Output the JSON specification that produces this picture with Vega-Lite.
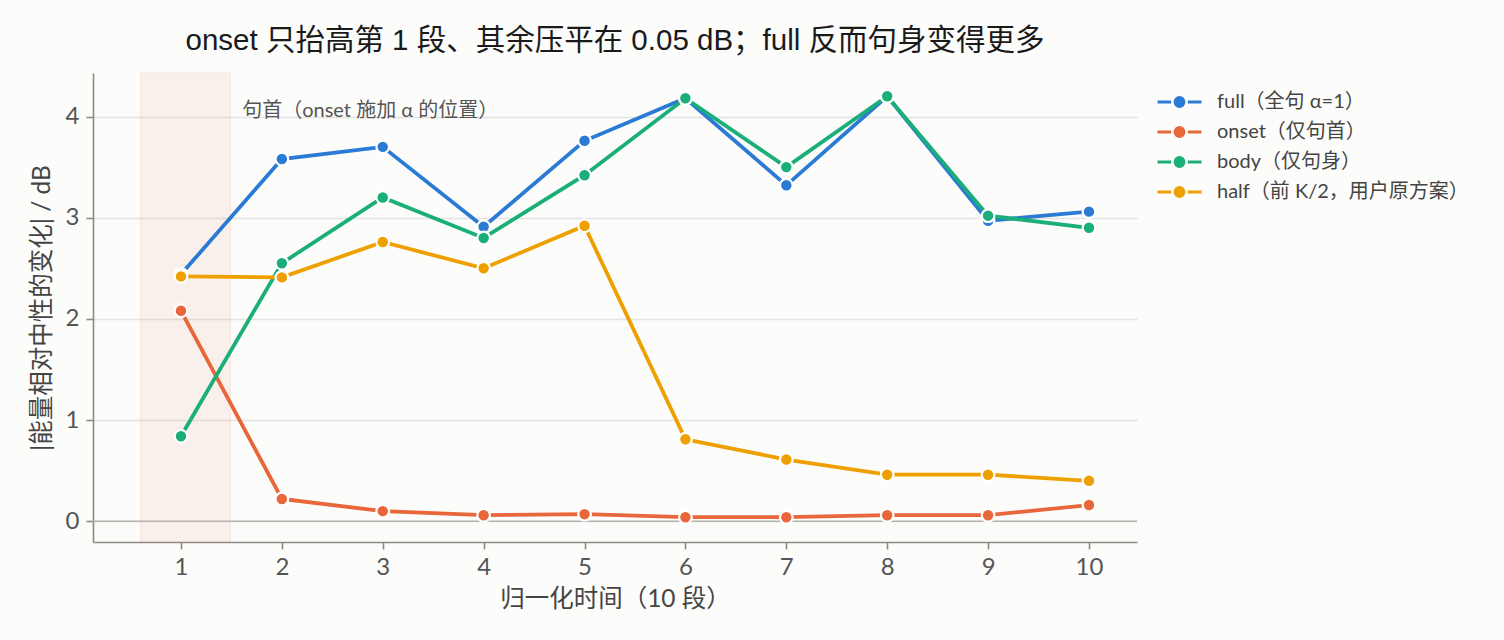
{
  "$schema": "https://vega.github.io/schema/vega-lite/v6.json",
  "width": 1044,
  "height": 469,
  "autosize": {"type": "none"},
  "padding": {"left": 93, "top": 73, "right": 367, "bottom": 98},
  "background": "#fcfcfa",
  "title": {
    "text": "onset 只抬高第 1 段、其余压平在 0.05 dB；full 反而句身变得更多",
    "font": "Liberation Sans, Noto Sans CJK SC",
    "fontSize": 29.5,
    "fontWeight": "normal",
    "color": "#1a1a1a",
    "anchor": "middle",
    "offset": 16
  },
  "layer": [
    {
      "data": {"values": [{"start": 0.6, "end": 1.49}]},
      "mark": {"type": "rect", "fill": "#e8663a", "fillOpacity": 0.08, "stroke": "#e8663a", "strokeOpacity": 0.12, "strokeWidth": 1},
      "encoding": {
        "x": {"field": "start", "type": "quantitative", "scale": {"domain": [0.128, 10.476], "nice": false, "zero": false}},
        "x2": {"field": "end"}
      }
    },
    {
      "data": {"values": [{"y": 0}]},
      "mark": {"type": "rule", "color": "#b4b4b0", "strokeWidth": 1.6},
      "encoding": {
        "y": {"field": "y", "type": "quantitative"}
      }
    },
    {
      "data": {"values": [{"x": 1.607, "y": 4.055, "t": "句首（onset 施加 α 的位置）"}]},
      "mark": {"type": "text", "align": "left", "baseline": "middle", "font": "Lato, Noto Sans CJK SC", "fontSize": 20, "color": "#555555"},
      "encoding": {
        "x": {"field": "x", "type": "quantitative"},
        "y": {"field": "y", "type": "quantitative"},
        "text": {"field": "t"}
      }
    },
    {
      "data": {
        "values": [
          {"series": "full（全句 α=1）", "seg": 1, "db": 2.44},
          {"series": "full（全句 α=1）", "seg": 2, "db": 3.58},
          {"series": "full（全句 α=1）", "seg": 3, "db": 3.70},
          {"series": "full（全句 α=1）", "seg": 4, "db": 2.91},
          {"series": "full（全句 α=1）", "seg": 5, "db": 3.76},
          {"series": "full（全句 α=1）", "seg": 6, "db": 4.18},
          {"series": "full（全句 α=1）", "seg": 7, "db": 3.32},
          {"series": "full（全句 α=1）", "seg": 8, "db": 4.20},
          {"series": "full（全句 α=1）", "seg": 9, "db": 2.97},
          {"series": "full（全句 α=1）", "seg": 10, "db": 3.06},
          {"series": "onset（仅句首）", "seg": 1, "db": 2.08},
          {"series": "onset（仅句首）", "seg": 2, "db": 0.22},
          {"series": "onset（仅句首）", "seg": 3, "db": 0.10},
          {"series": "onset（仅句首）", "seg": 4, "db": 0.06},
          {"series": "onset（仅句首）", "seg": 5, "db": 0.07},
          {"series": "onset（仅句首）", "seg": 6, "db": 0.04},
          {"series": "onset（仅句首）", "seg": 7, "db": 0.04},
          {"series": "onset（仅句首）", "seg": 8, "db": 0.06},
          {"series": "onset（仅句首）", "seg": 9, "db": 0.06},
          {"series": "onset（仅句首）", "seg": 10, "db": 0.16},
          {"series": "body（仅句身）", "seg": 1, "db": 0.84},
          {"series": "body（仅句身）", "seg": 2, "db": 2.55},
          {"series": "body（仅句身）", "seg": 3, "db": 3.20},
          {"series": "body（仅句身）", "seg": 4, "db": 2.80},
          {"series": "body（仅句身）", "seg": 5, "db": 3.42},
          {"series": "body（仅句身）", "seg": 6, "db": 4.18},
          {"series": "body（仅句身）", "seg": 7, "db": 3.50},
          {"series": "body（仅句身）", "seg": 8, "db": 4.20},
          {"series": "body（仅句身）", "seg": 9, "db": 3.02},
          {"series": "body（仅句身）", "seg": 10, "db": 2.90},
          {"series": "half（前 K/2，用户原方案）", "seg": 1, "db": 2.42},
          {"series": "half（前 K/2，用户原方案）", "seg": 2, "db": 2.41},
          {"series": "half（前 K/2，用户原方案）", "seg": 3, "db": 2.76},
          {"series": "half（前 K/2，用户原方案）", "seg": 4, "db": 2.50},
          {"series": "half（前 K/2，用户原方案）", "seg": 5, "db": 2.92},
          {"series": "half（前 K/2，用户原方案）", "seg": 6, "db": 0.81},
          {"series": "half（前 K/2，用户原方案）", "seg": 7, "db": 0.61},
          {"series": "half（前 K/2，用户原方案）", "seg": 8, "db": 0.46},
          {"series": "half（前 K/2，用户原方案）", "seg": 9, "db": 0.46},
          {"series": "half（前 K/2，用户原方案）", "seg": 10, "db": 0.40}
        ]
      },
      "encoding": {
        "x": {
          "field": "seg",
          "type": "quantitative",
          "axis": {
            "values": [1, 2, 3, 4, 5, 6, 7, 8, 9, 10],
            "format": "d",
            "title": "归一化时间（10 段）",
            "grid": false
          }
        },
        "y": {
          "field": "db",
          "type": "quantitative",
          "scale": {"domain": [-0.205, 4.43], "nice": false, "zero": false},
          "axis": {
            "values": [0, 1, 2, 3, 4],
            "format": "d",
            "title": "|能量相对中性的变化| / dB",
            "grid": true
          }
        },
        "color": {
          "field": "series",
          "type": "nominal",
          "sort": null,
          "scale": {
            "domain": ["full（全句 α=1）", "onset（仅句首）", "body（仅句身）", "half（前 K/2，用户原方案）"],
            "range": ["#2a7ad6", "#e8663a", "#1aae79", "#eea000"]
          },
          "legend": {
            "title": null,
            "orient": "none",
            "legendX": 1063,
            "legendY": 19,
            "symbolType": "M-1,0L-0.38,0M0.38,0L1,0M-0.2,0A0.2,0.2,0,1,0,0.2,0A0.2,0.2,0,1,0,-0.2,0",
            "symbolSize": 1936,
            "symbolStrokeWidth": 3,
            "clipHeight": 20,
            "rowPadding": 10,
            "labelOffset": 14,
            "labelFont": "Lato, Noto Sans CJK SC",
            "labelFontSize": 20,
            "labelColor": "#444444",
            "labelLimit": 400,
            "encode": {
              "symbols": {
                "update": {
                  "fill": {"scale": "color", "field": "value"},
                  "stroke": {"scale": "color", "field": "value"},
                  "opacity": {"value": 1}
                }
              }
            }
          }
        }
      },
      "layer": [
        {
          "mark": {"type": "line", "strokeWidth": 3.8}
        },
        {
          "mark": {"type": "point", "shape": "circle", "filled": true, "size": 160, "stroke": "white", "strokeWidth": 2.2, "opacity": 1}
        }
      ]
    }
  ],
  "config": {
    "view": {"stroke": null},
    "axis": {
      "labelFont": "Lato",
      "labelFontSize": 24,
      "labelColor": "#555555",
      "titleFont": "Lato, Noto Sans CJK SC",
      "titleFontSize": 24.5,
      "titleFontWeight": "normal",
      "titleColor": "#444444",
      "domainColor": "#8a8a85",
      "domainWidth": 1.6,
      "tickColor": "#8a8a85",
      "tickWidth": 1.6,
      "tickSize": 7,
      "gridColor": "#e3e3e3",
      "gridWidth": 1.3,
      "labelPadding": 6
    },
    "axisX": {"titlePadding": 8},
    "axisY": {"titlePadding": 11, "labelPadding": 7}
  }
}
